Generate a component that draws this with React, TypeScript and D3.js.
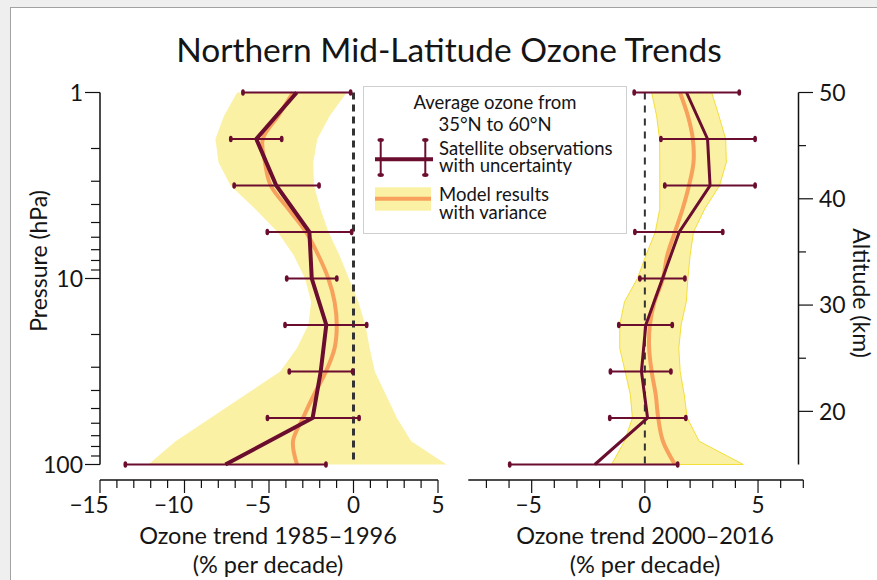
import React from "react";
import * as d3 from "d3";

// ---------- DATA ----------
// Satellite pressure levels (hPa)
const pressureLevels = [1, 1.778, 3.162, 5.623, 10, 17.78, 31.62, 56.23, 100];
// Model pressure levels (hPa)
const modelPressure = [1, 1.334, 1.778, 2.371, 3.162, 4.217, 5.623, 7.499, 10, 13.34, 17.78, 23.71, 31.62, 42.17, 56.23, 74.99, 100];

// 1985–1996 satellite trend (% per decade) with uncertainty
const sat1985Mean = [-3.36, -5.75, -4.57, -2.61, -2.47, -1.61, -1.94, -2.42, -7.58];
const sat1985Low = [-6.54, -7.26, -7.06, -5.1, -3.95, -4.05, -3.8, -5.09, -13.5];
const sat1985High = [-0.17, -4.25, -2.04, -0.11, -0.99, 0.78, -0.05, 0.33, -1.63];

// 1985–1996 model results with variance
const model1985Mean = [-3.58, -4.45, -5.37, -5.24, -4.9, -3.86, -2.81, -2.08, -1.49, -1.12, -0.99, -1.12, -1.63, -2.34, -2.99, -3.58, -3.34];
const model1985Low = [-6.89, -7.66, -8.17, -7.99, -7.28, -5.83, -4.49, -3.54, -2.87, -2.51, -2.67, -3.35, -4.34, -6.4, -8.46, -10.53, -12.14];
const model1985High = [-0.4, -1.4, -2.14, -2.38, -2.34, -1.96, -1.48, -0.83, -0.27, 0.29, 0.7, 0.96, 1.26, 1.92, 2.57, 3.42, 5.51];

// 2000–2016 satellite trend
const sat2000Mean = [1.84, 2.77, 2.88, 1.52, 0.78, 0.04, -0.15, 0.12, -2.21];
const sat2000Low = [-0.47, 0.71, 0.88, -0.44, -0.22, -1.15, -1.52, -1.55, -5.97];
const sat2000High = [4.17, 4.87, 4.87, 3.44, 1.77, 1.21, 1.15, 1.81, 1.45];

// 2000–2016 model results
const model2000Mean = [1.55, 1.9, 2.12, 2.15, 1.95, 1.67, 1.33, 0.99, 0.8, 0.43, 0.22, 0.19, 0.3, 0.48, 0.59, 0.8, 1.33];
const model2000Low = [0.3, 0.52, 0.65, 0.66, 0.66, 0.66, 0.46, 0.05, -0.33, -0.9, -1.11, -1.11, -0.87, -0.64, -0.55, -0.9, -1.47];
const model2000High = [2.95, 3.27, 3.57, 3.6, 3.3, 2.65, 2.15, 2.0, 1.9, 1.83, 1.6, 1.5, 1.56, 1.74, 1.87, 2.4, 4.35];

// Tick labels
const pressureTickLabels = [1, 10, 100];
const pressureMinorTicks = [2, 3, 4, 5, 6, 7, 8, 9, 20, 30, 40, 50, 60, 70, 80, 90];
const altitudeTickLabels = [20, 30, 40, 50];
const altitudeMinorTicks = [25, 35, 45];
const leftXTickLabels = [-15, -10, -5, 0, 5];
const rightXTickLabels = [-5, 0, 5];

const title = "Northern Mid-Latitude Ozone Trends";
const leftXTitle = ["Ozone trend 1985–1996", "(% per decade)"];
const rightXTitle = ["Ozone trend 2000–2016", "(% per decade)"];
const yLeftTitle = "Pressure (hPa)";
const yRightTitle = "Altitude (km)";
const legendTitle = ["Average ozone from", "35°N to 60°N"];
const legendSat = ["Satellite observations", "with uncertainty"];
const legendModel = ["Model results", "with variance"];

// ---------- STYLE ----------
const FONT = "Lato, 'Open Sans', sans-serif";
const MAROON = "#6a0d2e";
const ORANGE = "#f7a15c";
const YELLOW = "#fbf1a5";
const YELLOW_EDGE = "#f3df3a";
const TEXT = "#151515";

const yP = d3.scaleLog().domain([1, 100]).range([92.5, 464.5]);
const yAlt = d3.scaleLinear().domain([15, 50]).range([464.5, 92.5]);
const xL = d3.scaleLinear().domain([-15, 5]).range([100, 438]);
const xR = d3.scaleLinear().domain([-7.8, 7]).range([468.3, 803.3]);

type PanelProps = {
  x: d3.ScaleLinear<number, number>;
  satMean: number[];
  satLow: number[];
  satHigh: number[];
  mMean: number[];
  mLow: number[];
  mHigh: number[];
  bandStroke: string;
  satWidth: number;
  dashWidth: number;
  dash: string;
};

function Panel(p: PanelProps) {
  const band = d3
    .area<number>()
    .y((_, i) => yP(modelPressure[i]))
    .x0((_, i) => p.x(p.mLow[i]))
    .x1((_, i) => p.x(p.mHigh[i]))
    .curve(d3.curveLinear);
  const mline = d3
    .line<number>()
    .x((d) => p.x(d))
    .y((_, i) => yP(modelPressure[i]))
    .curve(d3.curveCatmullRom.alpha(0.5));
  const sline = d3
    .line<number>()
    .x((d) => p.x(d))
    .y((_, i) => yP(pressureLevels[i]));
  return (
    <g>
      <path d={band(p.mMean) || ""} fill={YELLOW} stroke={p.bandStroke} strokeWidth={1} />
      <line
        x1={p.x(0)}
        x2={p.x(0)}
        y1={yP(1)}
        y2={yP(100)}
        stroke="#333"
        strokeWidth={p.dashWidth}
        strokeDasharray={p.dash}
      />
      <path d={mline(p.mMean) || ""} fill="none" stroke={ORANGE} strokeWidth={4} />
      {pressureLevels.map((pr, i) => (
        <g key={i}>
          <line x1={p.x(p.satLow[i])} x2={p.x(p.satHigh[i])} y1={yP(pr)} y2={yP(pr)} stroke={MAROON} strokeWidth={2} />
          <ellipse cx={p.x(p.satLow[i])} cy={yP(pr)} rx={1.9} ry={3.2} fill={MAROON} />
          <ellipse cx={p.x(p.satHigh[i])} cy={yP(pr)} rx={1.9} ry={3.2} fill={MAROON} />
        </g>
      ))}
      <path d={sline(p.satMean) || ""} fill="none" stroke={MAROON} strokeWidth={p.satWidth} strokeLinejoin="miter" />
    </g>
  );
}

function XAxis({ x, labels, negOffset }: { x: d3.ScaleLinear<number, number>; labels: number[]; negOffset: number }) {
  const [d0, d1] = x.domain();
  const ticks = d3.range(Math.ceil(d0), Math.floor(d1) + 1);
  const [r0, r1] = x.range();
  const y0 = 480;
  return (
    <g>
      <line x1={r0} x2={r1} y1={y0} y2={y0} stroke="#111" strokeWidth={1.5} />
      {ticks.map((t) => {
        const major = labels.includes(t);
        return <line key={t} x1={x(t)} x2={x(t)} y1={y0} y2={y0 + (major ? 13 : 8)} stroke="#111" strokeWidth={1.2} />;
      })}
      {labels.map((t) => (
        <text
          key={t}
          x={x(t) + (t < 0 ? negOffset : 0)}
          y={513}
          textAnchor="middle"
          fontSize={22.5}
          fill={TEXT}
        >
          {t < 0 ? "\u2212" + Math.abs(t) : String(t)}
        </text>
      ))}
    </g>
  );
}

function TwoLine({ x, y, lines, gap, size, anchor }: { x: number; y: number; lines: string[]; gap: number; size: number; anchor: string }) {
  return (
    <text x={x} y={y} fontSize={size} fill={TEXT} textAnchor={anchor}>
      {lines.map((s, i) => (
        <tspan key={s} x={x} dy={i === 0 ? 0 : gap}>
          {s}
        </tspan>
      ))}
    </text>
  );
}

export default function App() {
  return (
    <svg
      width={877}
      height={580}
      style={{ position: "absolute", left: 0, top: 0, fontFamily: FONT }}
    >
      <rect x={0} y={0} width={877} height={580} fill="#efefef" />
      <rect x={10.5} y={7.5} width={900} height={600} fill="#fff" stroke="#a2a2a2" strokeWidth={1} />

      <text x={449} y={62} textAnchor="middle" fontSize={33.5} fill={TEXT}>
        {title}
      </text>

      {/* Left panel */}
      <Panel
        x={xL}
        satMean={sat1985Mean}
        satLow={sat1985Low}
        satHigh={sat1985High}
        mMean={model1985Mean}
        mLow={model1985Low}
        mHigh={model1985High}
        bandStroke="none"
        satWidth={4}
        dashWidth={3}
        dash="7,5"
      />
      {/* Right panel */}
      <Panel
        x={xR}
        satMean={sat2000Mean}
        satLow={sat2000Low}
        satHigh={sat2000High}
        mMean={model2000Mean}
        mLow={model2000Low}
        mHigh={model2000High}
        bandStroke={YELLOW_EDGE}
        satWidth={3}
        dashWidth={2}
        dash="7,6"
      />

      {/* Left y axis (pressure) */}
      <g>
        <line x1={100} x2={100} y1={yP(1)} y2={yP(100)} stroke="#111" strokeWidth={1.5} />
        {pressureTickLabels.map((t) => (
          <g key={t}>
            <line x1={85} x2={100} y1={yP(t)} y2={yP(t)} stroke="#111" strokeWidth={1.2} />
            <text x={83} y={yP(t)} dy="0.36em" textAnchor="end" fontSize={23} fill={TEXT}>
              {t}
            </text>
          </g>
        ))}
        {pressureMinorTicks.map((t) => (
          <line key={t} x1={91} x2={100} y1={yP(t)} y2={yP(t)} stroke="#111" strokeWidth={1.2} />
        ))}
        <text transform={`translate(47,${261}) rotate(-90)`} textAnchor="middle" fontSize={23} fill={TEXT}>
          {yLeftTitle}
        </text>
      </g>

      {/* Right y axis (altitude) */}
      <g>
        <line x1={798.5} x2={798.5} y1={yAlt(50)} y2={yAlt(15)} stroke="#111" strokeWidth={1.5} />
        {altitudeTickLabels.map((t) => (
          <g key={t}>
            <line x1={798.5} x2={813} y1={yAlt(t)} y2={yAlt(t)} stroke="#111" strokeWidth={1.2} />
            <text x={819} y={yAlt(t)} dy="0.36em" textAnchor="start" fontSize={23} fill={TEXT}>
              {t}
            </text>
          </g>
        ))}
        {altitudeMinorTicks.map((t) => (
          <line key={t} x1={798.5} x2={806} y1={yAlt(t)} y2={yAlt(t)} stroke="#111" strokeWidth={1.2} />
        ))}
        <text transform={`translate(853,${293}) rotate(90)`} textAnchor="middle" fontSize={23} fill={TEXT}>
          {yRightTitle}
        </text>
      </g>

      <XAxis x={xL} labels={leftXTickLabels} negOffset={-11} />
      <XAxis x={xR} labels={rightXTickLabels} negOffset={-3} />

      <TwoLine x={268} y={544} lines={leftXTitle} gap={28.5} size={23.5} anchor="middle" />
      <TwoLine x={645} y={544} lines={rightXTitle} gap={28.5} size={23.5} anchor="middle" />

      {/* Legend */}
      <g>
        <rect x={363.5} y={86.5} width={263} height={147} fill="#fff" stroke="#cfcfcf" strokeWidth={1} />
        <TwoLine x={495} y={109} lines={legendTitle} gap={21.5} size={18.5} anchor="middle" />
        <line x1={375} x2={433} y1={159.3} y2={159.3} stroke={MAROON} strokeWidth={4} />
        {[380.7, 425.3].map((cx) => (
          <g key={cx}>
            <line x1={cx} x2={cx} y1={140} y2={175} stroke={MAROON} strokeWidth={2} />
            <ellipse cx={cx} cy={140} rx={3.2} ry={1.9} fill={MAROON} />
            <ellipse cx={cx} cy={175} rx={3.2} ry={1.9} fill={MAROON} />
          </g>
        ))}
        <TwoLine x={439} y={155} lines={legendSat} gap={17} size={18.5} anchor="start" />
        <rect x={375} y={187.3} width={56} height={23.4} fill={YELLOW} />
        <line x1={375} x2={431} y1={198.7} y2={198.7} stroke={ORANGE} strokeWidth={4} />
        <TwoLine x={439} y={201} lines={legendModel} gap={17.5} size={18.5} anchor="start" />
      </g>
    </svg>
  );
}
